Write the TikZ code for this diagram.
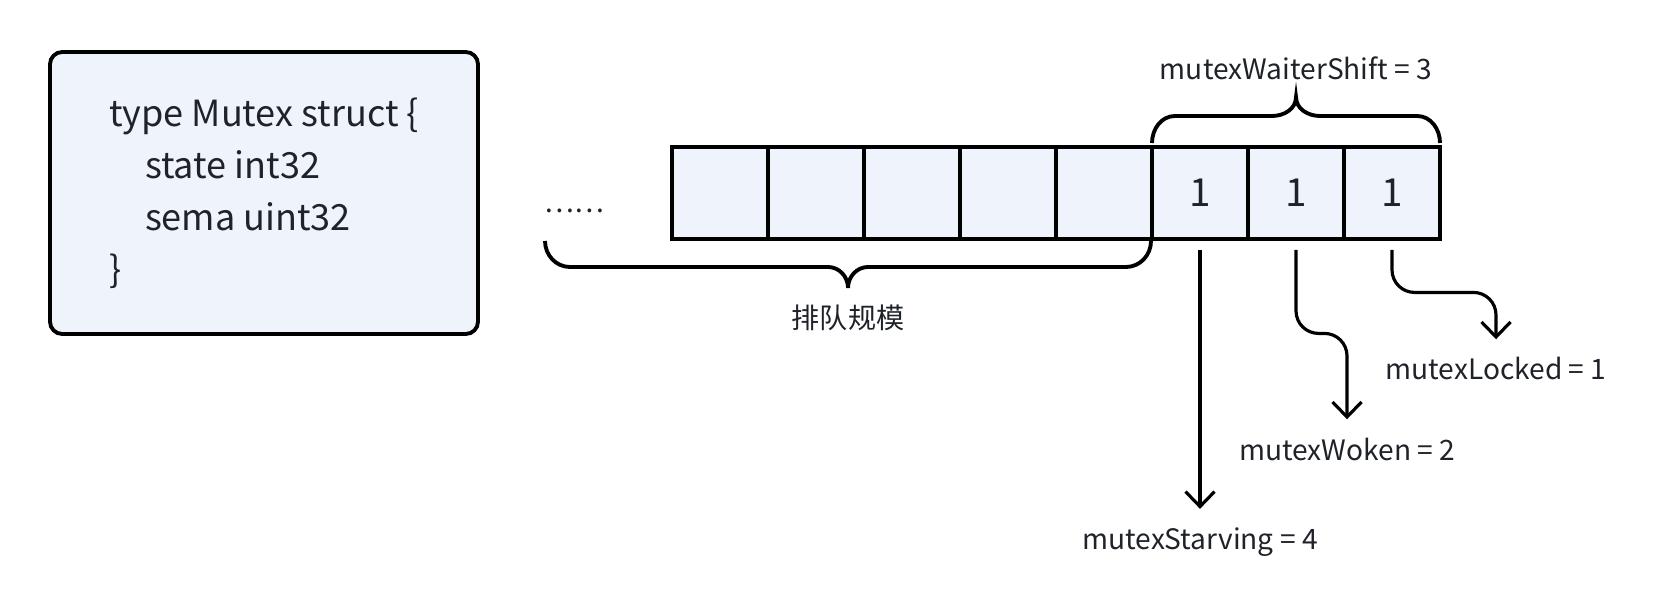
\documentclass[tikz,border=0pt]{standalone}
\usepackage{fontspec}
\setmainfont{Noto Sans CJK SC}
\usepackage{tikz}
\usetikzlibrary{arrows.meta,positioning,calc}
\usepackage{xcolor}
\definecolor{cellblue}{RGB}{239,244,252}
\definecolor{inkgray}{RGB}{31,35,41}

\begin{document}
\begin{tikzpicture}[
    box/.style={rectangle, rounded corners=7pt, draw=black, line width=2.2pt, fill=cellblue,
                minimum width=8.56cm, minimum height=5.64cm, align=left, text=inkgray,
                font=\fontsize{20.5pt}{29.6pt}\selectfont},
    bit/.style={rectangle, draw=black, line width=2.2pt, fill=cellblue, inner sep=0pt,
                minimum width=1.92cm, minimum height=1.84cm, text=inkgray,
                font=\fontsize{22pt}{22pt}\selectfont},
    note/.style={text=inkgray, font=\fontsize{16pt}{16pt}\selectfont},
    lbl/.style={note, anchor=base, inner xsep=0pt, inner ysep=0.36cm},
    arrow/.style={-{Straight Barb[length=0.3cm, width=0.58cm]}, line width=1.8pt,
                  shorten <=0.18cm, rounded corners=0.45cm},
    curly/.style={line width=2.2pt}
]
\useasboundingbox (0,0) rectangle (33.12,12.12);

\node[box] (mutex) at (5.28, 8.26) {type Mutex struct \{\\
    \hspace*{1em}state int32\\
    \hspace*{1em}sema uint32\\
    \}};

% state word, low bits on the right
\foreach \i in {1,...,8}
    \node[bit] (c\i) at ({12.48 + 1.92*\i}, 8.26) {\ifnum\i>5 1\fi};

\node[note] (dots) at (11.48, 7.90) {……};

% braces
\draw[curly] (10.90, 7.30) to[out=-90, in=180] (11.40, 6.78) -- (16.56, 6.78)
    to[out=0, in=90] (16.96, 6.36) to[out=90, in=180] (17.36, 6.78) -- (22.52, 6.78)
    to[out=0, in=-90] (23.02, 7.30);
\draw[curly] (23.04, 9.26) to[out=90, in=180] (23.50, 9.80) -- (25.44, 9.80)
    to[out=0, in=-90] (25.92, 10.18) to[out=-90, in=180] (26.40, 9.80) -- (28.34, 9.80)
    to[out=0, in=90] (28.80, 9.26);

\node[note] (queue) at (16.96, 5.76) {排队规模};
\node[note, anchor=base] (shift) at (25.92, 10.52) {mutexWaiterShift = 3};

\node[lbl] (starving) at (24.00, 1.14) {mutexStarving = 4};
\node[lbl] (woken) at (26.94, 2.92) {mutexWoken = 2};
\node[lbl] (locked) at (29.92, 4.52) {mutexLocked = 1};

\draw[arrow] (c6.south) -- (c6.south |- starving.north);
\draw[arrow] (c7.south) -- ++(0,-1.85) -| (woken.north);
\draw[arrow] (c8.south) -- ++(0,-1.03) -| (locked.north);

\end{tikzpicture}
\end{document}
